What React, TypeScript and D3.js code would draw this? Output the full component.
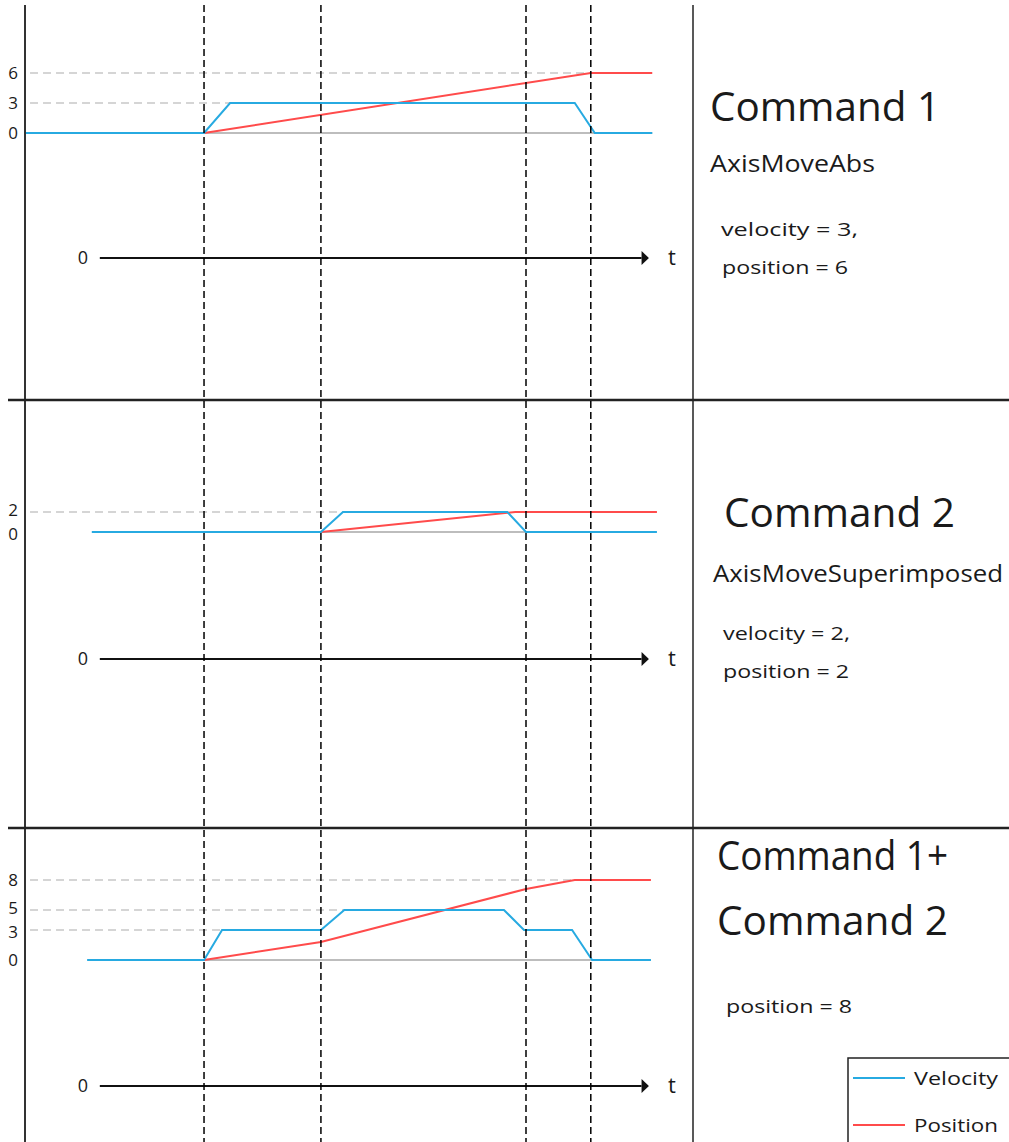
import React from "react";
import * as d3 from "d3";

// time axis in arbitrary units (0..100)
const markerTimes = [26.8, 44.3, 75.0, 84.7];

// Panel 1: Command 1 (AxisMoveAbs)
const p1VelT = [0, 26.8, 30.7, 82.3, 85.3, 93.9];
const p1VelV = [0, 0, 3, 3, 0, 0];
const p1PosT = [26.8, 84.7, 93.9];
const p1PosV = [0, 6, 6];
const p1Ticks = [0, 3, 6];
const p1RefEnd = [30.7, 84.7]; // where dashed ref lines for 3 and 6 end

// Panel 2: Command 2 (AxisMoveSuperimposed)
const p2VelT = [10.0, 44.3, 47.6, 72.2, 75.0, 94.6];
const p2VelV = [0, 0, 2, 2, 0, 0];
const p2PosT = [44.3, 73.4, 94.6];
const p2PosV = [0, 2, 2];
const p2Ticks = [0, 2];
const p2RefEnd = [47.6];

// Panel 3: Command 1 + Command 2
const p3VelT = [9.3, 26.8, 29.5, 44.3, 47.8, 71.7, 74.7, 81.9, 84.9, 93.7];
const p3VelV = [0, 0, 3, 3, 5, 5, 3, 3, 0, 0];
const p3PosT = [26.8, 44.3, 75.0, 82.3, 93.7];
const p3PosV = [0, 1.8, 7.1, 8, 8];
const p3Ticks = [0, 3, 5, 8];
const p3RefEnd = [29.5, 47.8, 82.3];

const BLUE = "#27aae1";
const RED = "#ff4b4b";
const GRAY = "#c8c8c8";
const INK = "#1a1a1a";
const FONT = "'Open Sans', 'Noto Sans', sans-serif";
const TICK_FS = 17;

const x = d3.scaleLinear().domain([0, 100]).range([25, 693]);

type PanelProps = {
  zeroY: number;
  velT: number[];
  velV: number[];
  posT: number[];
  posV: number[];
  ticks: number[];
  refEnd: number[];
  baseStart: number;
  baseEnd: number;
  axisY: number;
};

function Panel(p: PanelProps) {
  const y = d3.scaleLinear().domain([0, 10]).range([p.zeroY, p.zeroY - 100]);
  const line = d3
    .line<[number, number]>()
    .x((d) => x(d[0]))
    .y((d) => y(d[1]));
  const vel = p.velT.map((t, i) => [t, p.velV[i]] as [number, number]);
  const pos = p.posT.map((t, i) => [t, p.posV[i]] as [number, number]);
  const nonZero = p.ticks.filter((v) => v !== 0);

  // label positions, nudged apart a little where ticks are tight
  const minGap = TICK_FS * 1.4;
  const labelY = p.ticks.map((v) => y(v));
  const shift = p.ticks.map(() => 0);
  for (let i = 0; i < labelY.length - 1; i++) {
    const gap = labelY[i] - labelY[i + 1];
    if (gap < minGap) {
      const d = (minGap - gap) / 2;
      shift[i] += d;
      shift[i + 1] -= d;
    }
  }

  return (
    <g>
      {nonZero.map((v, i) => (
        <line
          key={"ref" + v}
          x1={x(0.75)}
          x2={x(p.refEnd[i])}
          y1={y(v)}
          y2={y(v)}
          stroke={GRAY}
          strokeWidth={1.3}
          strokeDasharray="8,5"
        />
      ))}
      <line x1={x(p.baseStart)} x2={x(p.baseEnd)} y1={y(0)} y2={y(0)} stroke="#bdbdbd" strokeWidth={2} />
      <path d={line(pos) || ""} fill="none" stroke={RED} strokeWidth={2} />
      <path d={line(vel) || ""} fill="none" stroke={BLUE} strokeWidth={2} />
      {p.ticks.map((v, i) => (
        <text
          key={"t" + v}
          x={13}
          y={labelY[i] + shift[i]}
          dy="0.36em"
          textAnchor="middle"
          fontFamily={FONT}
          fontSize={TICK_FS}
          fill={INK}
        >
          {v}
        </text>
      ))}
      {/* time axis */}
      <line x1={x(11.2)} x2={x(92.3)} y1={p.axisY} y2={p.axisY} stroke="#111" strokeWidth={2} />
      <path
        d={`M${x(92.3)},${p.axisY - 7} L${x(93.4)},${p.axisY} L${x(92.3)},${p.axisY + 7} Z`}
        fill="#111"
      />
      <text x={83} y={p.axisY} dy="0.36em" textAnchor="middle" fontFamily={FONT} fontSize={18} fill={INK}>
        0
      </text>
      <text x={672} y={p.axisY} dy="0.3em" textAnchor="middle" fontFamily={FONT} fontSize={22} fill={INK}>
        t
      </text>
    </g>
  );
}

export default function App() {
  return (
    <svg
      width={1009}
      height={1142}
      style={{ position: "absolute", left: 0, top: 0, background: "#fff" }}
    >
      <rect width={1009} height={1142} fill="#fff" />
      <Panel
        zeroY={133}
        velT={p1VelT}
        velV={p1VelV}
        posT={p1PosT}
        posV={p1PosV}
        ticks={p1Ticks}
        refEnd={p1RefEnd}
        baseStart={26.8}
        baseEnd={93.9}
        axisY={258}
      />
      <Panel
        zeroY={532}
        velT={p2VelT}
        velV={p2VelV}
        posT={p2PosT}
        posV={p2PosV}
        ticks={p2Ticks}
        refEnd={p2RefEnd}
        baseStart={44.3}
        baseEnd={75.0}
        axisY={659}
      />
      <Panel
        zeroY={960}
        velT={p3VelT}
        velV={p3VelV}
        posT={p3PosT}
        posV={p3PosV}
        ticks={p3Ticks}
        refEnd={p3RefEnd}
        baseStart={26.8}
        baseEnd={93.7}
        axisY={1086}
      />

      {/* frame lines */}
      <line x1={25} x2={25} y1={5} y2={1142} stroke="#333" strokeWidth={2} />
      <line x1={693} x2={693} y1={5} y2={1142} stroke="#222" strokeWidth={1.5} />
      <line x1={8} x2={1009} y1={400} y2={400} stroke="#222" strokeWidth={2.5} />
      <line x1={8} x2={1009} y1={828} y2={828} stroke="#222" strokeWidth={2.5} />

      {/* marker dashed verticals */}
      {markerTimes.map((t) => (
        <line
          key={"m" + t}
          x1={x(t)}
          x2={x(t)}
          y1={5}
          y2={1142}
          stroke="#000"
          strokeWidth={1.5}
          strokeDasharray="7,4"
        />
      ))}

      {/* annotations */}
      <g fontFamily={FONT} fill={INK}>
        <text x={710} y={121} fontSize={40} textLength={230} lengthAdjust="spacingAndGlyphs">Command 1</text>
        <text x={710} y={172} fontSize={24} textLength={165} lengthAdjust="spacingAndGlyphs">AxisMoveAbs</text>
        <text x={721} y={236} fontSize={19} textLength={137} lengthAdjust="spacingAndGlyphs">velocity = 3,</text>
        <text x={722} y={274} fontSize={19} textLength={126} lengthAdjust="spacingAndGlyphs">position = 6</text>

        <text x={724} y={527} fontSize={40} textLength={231} lengthAdjust="spacingAndGlyphs">Command 2</text>
        <text x={713} y={582} fontSize={24} textLength={290} lengthAdjust="spacingAndGlyphs">AxisMoveSuperimposed</text>
        <text x={723} y={640} fontSize={19} textLength={127} lengthAdjust="spacingAndGlyphs">velocity = 2,</text>
        <text x={723} y={678} fontSize={19} textLength={126} lengthAdjust="spacingAndGlyphs">position = 2</text>

        <text x={717} y={870} fontSize={40} textLength={231} lengthAdjust="spacingAndGlyphs">Command 1+</text>
        <text x={717} y={935} fontSize={40} textLength={231} lengthAdjust="spacingAndGlyphs">Command 2</text>
        <text x={726} y={1013} fontSize={19} textLength={126} lengthAdjust="spacingAndGlyphs">position = 8</text>
      </g>

      {/* legend */}
      <rect x={848} y={1058} width={170} height={100} fill="#fff" stroke="#222" strokeWidth={1.5} />
      <line x1={853} x2={905} y1={1078} y2={1078} stroke={BLUE} strokeWidth={2} />
      <line x1={853} x2={905} y1={1125} y2={1125} stroke={RED} strokeWidth={2} />
      <text x={914} y={1085} fontFamily={FONT} fontSize={19} fill={INK} textLength={84} lengthAdjust="spacingAndGlyphs">Velocity</text>
      <text x={914} y={1132} fontFamily={FONT} fontSize={19} fill={INK} textLength={84} lengthAdjust="spacingAndGlyphs">Position</text>
    </svg>
  );
}
